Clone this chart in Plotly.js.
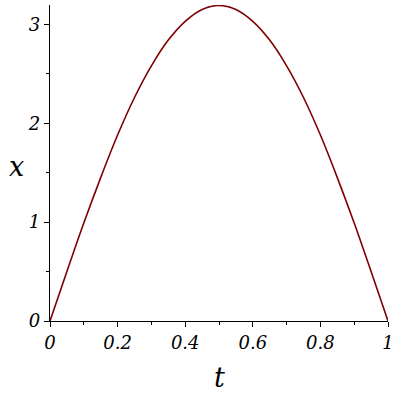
<!DOCTYPE html>
<html>
<head>
<meta charset="utf-8">
<script src="https://cdn.plot.ly/plotly-3.0.1.min.js"></script>
<style>html,body{margin:0;padding:0;background:#fff}#chart{width:400px;height:400px}</style>
</head>
<body>
<div id="chart"></div>
<script>
const tValues = [0, 0.05, 0.1, 0.15, 0.2, 0.25, 0.3, 0.35, 0.4, 0.45, 0.5, 0.55, 0.6, 0.65, 0.7, 0.75, 0.8, 0.85, 0.9, 0.95, 1];
const xValues = [0, 0.50, 0.99, 1.45, 1.88, 2.26, 2.58, 2.84, 3.03, 3.15, 3.19, 3.15, 3.03, 2.84, 2.58, 2.26, 1.88, 1.45, 0.99, 0.50, 0];
const xTickVals = [0, 0.2, 0.4, 0.6, 0.8, 1];
const xTickText = ['0', '0.2', '0.4', '0.6', '0.8', '1'];
const yTickVals = [0, 1, 2, 3];
const yTickText = ['0', '1', '2', '3'];
const xTitle = 't';
const yTitle = 'x';

const serif = 'DejaVu Serif';
const tickFont = {family: serif, size: 18, color: '#000', style: 'italic'};
const titleFont = {family: serif, size: 27, color: '#000', style: 'italic'};

const trace = {
  x: tValues, y: xValues, type: 'scatter', mode: 'lines',
  line: {color: '#7f0000', width: 1.6, shape: 'spline', smoothing: 1},
  hoverinfo: 'none'
};

const layout = {
  width: 400, height: 400,
  font: {family: serif},
  margin: {l: 50, r: 12, t: 5, b: 79},
  paper_bgcolor: '#fff', plot_bgcolor: '#fff',
  showlegend: false,
  xaxis: {
    range: [0, 1], tickvals: xTickVals, ticktext: xTickText,
    showgrid: false, zeroline: false, showline: true, linecolor: '#000', linewidth: 1.3,
    ticks: 'outside', ticklen: 5, tickcolor: '#000', tickfont: tickFont,
    minor: {tickvals: [0.1, 0.3, 0.5, 0.7, 0.9], ticks: 'outside', ticklen: 3, tickcolor: '#000', showgrid: false}
  },
  yaxis: {
    range: [0, 3.195], tickvals: yTickVals, ticktext: yTickText,
    showgrid: false, zeroline: false, showline: true, linecolor: '#000', linewidth: 1.3,
    ticks: 'outside', ticklen: 5, tickcolor: '#000', tickfont: tickFont,
    minor: {tickvals: [0.5, 1.5, 2.5], ticks: 'outside', ticklen: 3, tickcolor: '#000', showgrid: false}
  },
  annotations: [
    {text: xTitle, xref: 'paper', yref: 'paper', x: 0.5, y: -0.18, xanchor: 'center', yanchor: 'middle', showarrow: false, font: titleFont},
    {text: yTitle, xref: 'paper', yref: 'paper', x: -0.1, y: 0.49, xanchor: 'center', yanchor: 'middle', showarrow: false, font: titleFont}
  ]
};

Plotly.newPlot('chart', [trace], layout, {staticPlot: true, displayModeBar: false});
</script>
</body>
</html>
